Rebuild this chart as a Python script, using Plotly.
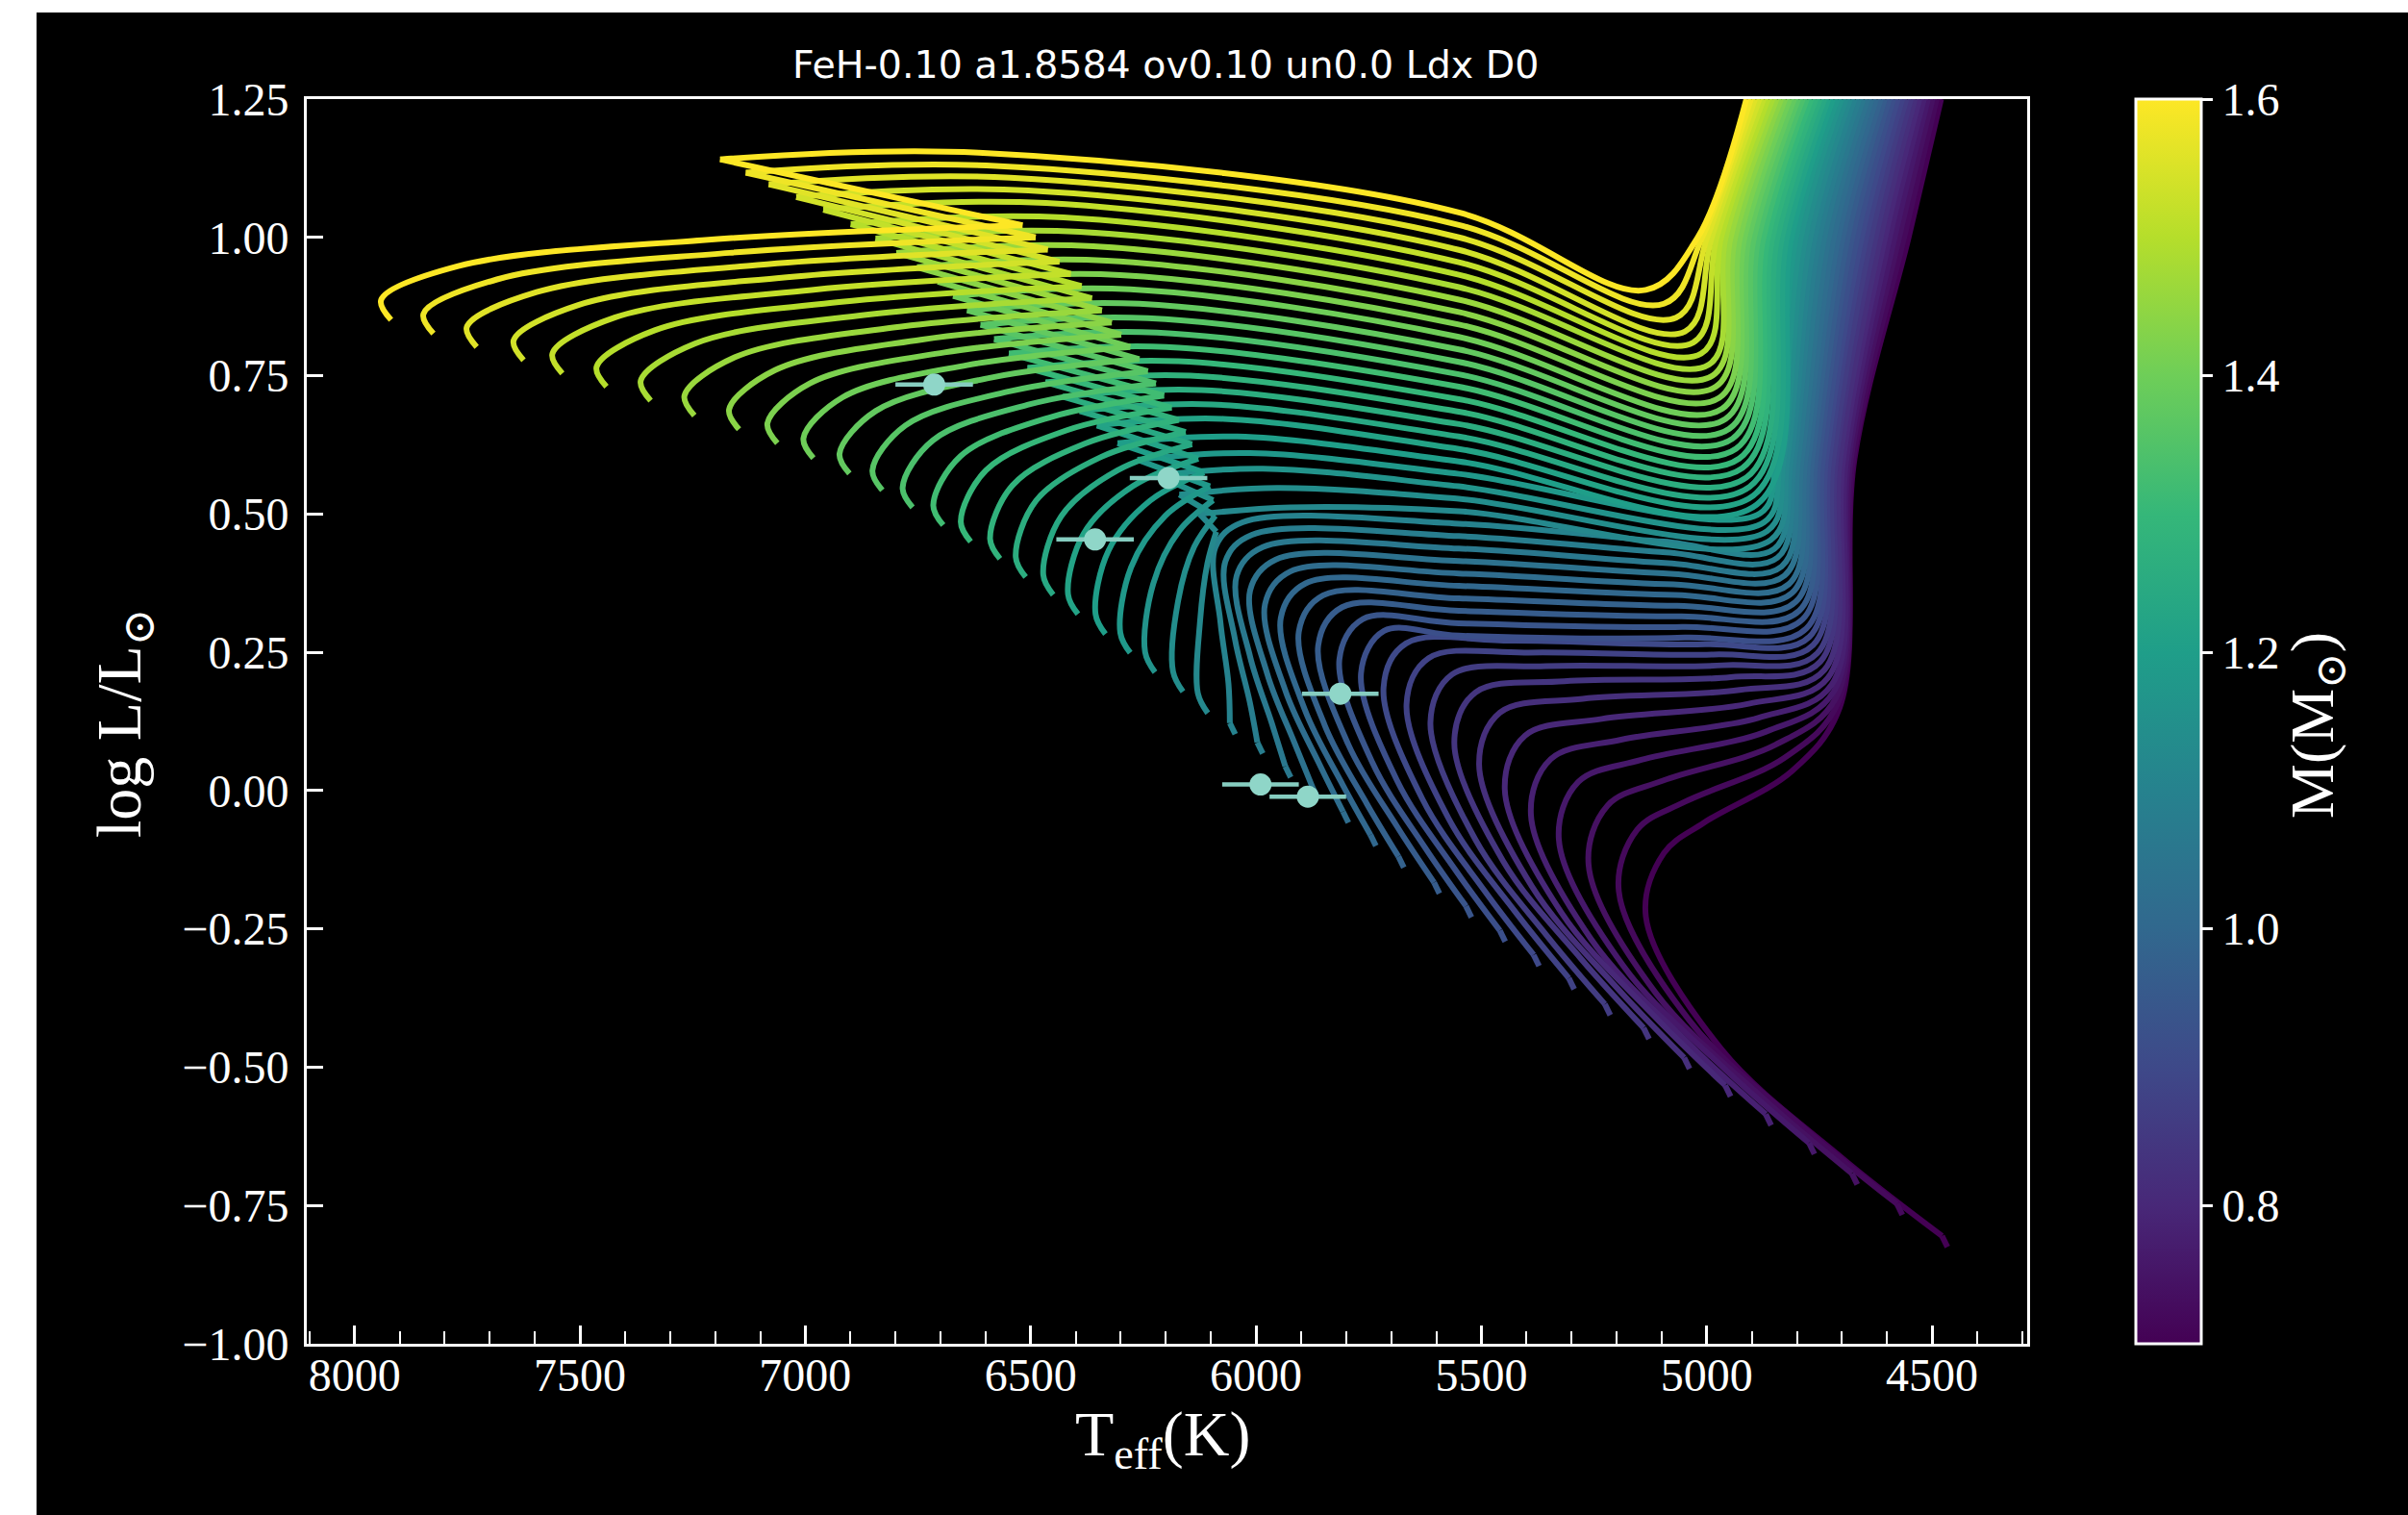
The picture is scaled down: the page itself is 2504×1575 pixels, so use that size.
import plotly.graph_objects as go
from plotly.colors import sample_colorscale

# Track grid: stellar masses in solar units, most massive first
masses = [1.60, 1.58, 1.56, 1.54, 1.52, 1.50, 1.48, 1.46, 1.44, 1.42,
          1.40, 1.38, 1.36, 1.34, 1.32, 1.30, 1.28, 1.26, 1.24, 1.22,
          1.20, 1.18, 1.16, 1.14, 1.12, 1.10, 1.08, 1.06, 1.04, 1.02,
          1.00, 0.98, 0.96, 0.94, 0.92, 0.90, 0.88, 0.86, 0.84, 0.82,
          0.80, 0.78, 0.76, 0.74, 0.72, 0.70]

# first model of each track
start_teff = [7919, 7825, 7729, 7625, 7539, 7441, 7343, 7246, 7147, 7062, 6982, 6902, 6829, 6762, 6694, 6633,
              6568, 6511, 6450, 6395, 6334, 6279, 6224, 6162, 6107, 6046, 5985, 5923, 5862, 5795, 5734, 5672,
              5593, 5522, 5447, 5372, 5294, 5214, 5128, 5038, 4947, 4857, 4761, 4666, 4566, 4466]
start_logl = [0.851, 0.826, 0.802, 0.778, 0.754, 0.730, 0.705, 0.678, 0.653, 0.628, 0.601, 0.573, 0.543, 0.512,
              0.480, 0.450, 0.419, 0.386, 0.354, 0.319, 0.283, 0.249, 0.214, 0.179, 0.140, 0.102, 0.067, 0.024,
              -0.015, -0.058, -0.100, -0.139, -0.186, -0.229, -0.273, -0.317, -0.359, -0.406, -0.449, -0.503,
              -0.553, -0.605, -0.657, -0.712, -0.767, -0.825]

# zero-age main sequence (top of the starting hook)
zams_teff = [7941, 7847, 7751, 7647, 7561, 7463, 7365, 7268, 7169, 7084, 7004, 6924, 6851, 6784, 6716, 6655,
             6590, 6533, 6472, 6417, 6356, 6301, 6246, 6184, 6129, 6058, 5997, 5935, 5874, 5807, 5746, 5684,
             5605, 5534, 5459, 5384, 5306, 5226, 5140, 5050, 4959, 4869, 4773, 4678, 4578, 4478]
zams_logl = [0.887, 0.862, 0.838, 0.814, 0.790, 0.766, 0.741, 0.714, 0.689, 0.664, 0.637, 0.609, 0.579, 0.548,
             0.516, 0.486, 0.455, 0.422, 0.390, 0.355, 0.319, 0.285, 0.250, 0.215, 0.176, 0.122, 0.087, 0.044,
             0.005, -0.038, -0.080, -0.119, -0.166, -0.209, -0.253, -0.297, -0.339, -0.386, -0.429, -0.483,
             -0.533, -0.585, -0.637, -0.692, -0.747, -0.805]

# two points along the main sequence
ms1_teff = [7770, 7684, 7596, 7502, 7423, 7334, 7245, 7157, 7067, 6990, 6917, 6844, 6778, 6717, 6655, 6599,
            6540, 6488, 6432, 6382, 6327, 6277, 6228, 6173, 6124, 6061, 6014, 5965, 5915, 5860, 5808, 5754,
            5687, 5625, 5559, 5493, 5424, 5354, 5279, 5201, 5122, 5044, 4959, 4875, 4786, 4700]
ms1_logl = [0.948, 0.924, 0.901, 0.878, 0.855, 0.832, 0.808, 0.783, 0.760, 0.736, 0.711, 0.686, 0.660, 0.633,
            0.605, 0.579, 0.552, 0.524, 0.496, 0.465, 0.434, 0.404, 0.374, 0.342, 0.307, 0.193, 0.161, 0.122,
            0.087, 0.049, 0.011, -0.024, -0.065, -0.103, -0.142, -0.181, -0.220, -0.263, -0.304, -0.355,
            -0.403, -0.454, -0.504, -0.556, -0.609, -0.664]
ms2_teff = [7229, 7168, 7106, 7041, 6986, 6925, 6865, 6805, 6744, 6691, 6641, 6591, 6545, 6503, 6460, 6421,
            6380, 6344, 6307, 6272, 6235, 6201, 6170, 6137, 6108, 6079, 6047, 6013, 5975, 5934, 5892, 5847,
            5795, 5742, 5687, 5631, 5573, 5513, 5452, 5388, 5323, 5257, 5186, 5113, 5038, 4968]
ms2_logl = [0.995, 0.972, 0.950, 0.928, 0.905, 0.883, 0.860, 0.837, 0.815, 0.792, 0.769, 0.746, 0.722, 0.698,
            0.674, 0.651, 0.627, 0.603, 0.579, 0.551, 0.524, 0.497, 0.470, 0.441, 0.410, 0.305, 0.275, 0.242,
            0.211, 0.179, 0.147, 0.117, 0.083, 0.051, 0.018, -0.015, -0.050, -0.089, -0.127, -0.173, -0.220,
            -0.268, -0.316, -0.366, -0.416, -0.467]

# end of the main sequence: coolest point before the hook (massive tracks) or hottest point (low masses)
turn_teff = [6518, 6489, 6462, 6436, 6411, 6387, 6364, 6342, 6320, 6299, 6279, 6259, 6240, 6222, 6204, 6187,
             6171, 6156, 6142, 6128, 6115, 6102, 6095, 6090, 6088, 6090, 6068, 6043, 6013, 5980, 5945, 5905,
             5862, 5815, 5767, 5717, 5666, 5613, 5560, 5505, 5448, 5390, 5328, 5262, 5195, 5135]
turn_logl = [1.022, 1.000, 0.978, 0.956, 0.934, 0.912, 0.890, 0.868, 0.846, 0.824, 0.802, 0.780, 0.758, 0.736,
             0.714, 0.692, 0.670, 0.648, 0.626, 0.600, 0.575, 0.550, 0.525, 0.497, 0.468, 0.440, 0.414, 0.388,
             0.362, 0.337, 0.312, 0.287, 0.262, 0.237, 0.212, 0.186, 0.156, 0.123, 0.087, 0.047, 0.002,
             -0.044, -0.089, -0.135, -0.182, -0.228]

# tip of the contraction hook (massive tracks) / top of the turn-off arc (low masses)
hook_teff = [7189, 7132, 7081, 7020, 6960, 6899, 6844, 6798, 6752, 6706, 6672, 6641, 6611, 6581, 6548, 6507,
             6467, 6429, 6391, 6353, 6307, 6263, 6220, 6170, 6125, 6030, 6009, 5985, 5956, 5924, 5890, 5851,
             5809, 5763, 5716, 5667, 5617, 5565, 5513, 5459, 5403, 5346, 5285, 5220, 5154, 5095]
hook_logl = [1.141, 1.117, 1.096, 1.073, 1.050, 1.024, 0.998, 0.972, 0.946, 0.920, 0.894, 0.868, 0.842, 0.816,
             0.790, 0.764, 0.738, 0.712, 0.686, 0.660, 0.628, 0.598, 0.570, 0.535, 0.500, 0.485, 0.4625, 0.440,
             0.4175, 0.396, 0.3745, 0.353, 0.3315, 0.310, 0.2885, 0.266, 0.2395, 0.210, 0.1775, 0.141, 0.0995,
             0.057, 0.0155, -0.027, -0.0705, -0.113]

# subgiant branch
sga_teff = [6615, 6578, 6545, 6505, 6466, 6427, 6391, 6361, 6331, 6301, 6279, 6259, 6240, 6220, 6199, 6172,
            6146, 6121, 6097, 6072, 6042, 6013, 5985, 5953, 5924, 5550, 5550, 5550, 5550, 5550, 5550, 5550,
            5550, 5550, 5550, 5433, 5395, 5356, 5316, 5275, 5233, 5190, 5145, 5097, 5049, 5006]
sga_logl = [1.153, 1.129, 1.108, 1.085, 1.062, 1.036, 1.010, 0.984, 0.958, 0.932, 0.906, 0.880, 0.854, 0.828,
            0.802, 0.776, 0.750, 0.724, 0.698, 0.672, 0.640, 0.610, 0.582, 0.547, 0.512, 0.4825, 0.460, 0.4375,
            0.415, 0.3925, 0.370, 0.3475, 0.325, 0.3025, 0.280, 0.271, 0.2495, 0.225, 0.1975, 0.166, 0.1295,
            0.092, 0.0555, 0.018, -0.0205, -0.058]
sgb_teff = [5550, 5550, 5550, 5550, 5550, 5550, 5550, 5550, 5550, 5550, 5550, 5550, 5550, 5550, 5550, 5550,
            5550, 5550, 5550, 5550, 5550, 5550, 5550, 5550, 5550, 5095, 5090, 5085, 5080, 5074, 5070, 5065,
            5059, 5055, 5049, 5003, 4985, 4965, 4947, 4927, 4907, 4886, 4867, 4847, 4828, 4810]
sgb_logl = [1.045, 1.0225, 1.000, 0.9775, 0.955, 0.9325, 0.910, 0.8875, 0.865, 0.8425, 0.820, 0.7975, 0.775,
            0.7525, 0.730, 0.7075, 0.685, 0.6625, 0.640, 0.6175, 0.595, 0.5725, 0.550, 0.5275, 0.505, 0.450,
            0.4305, 0.411, 0.392, 0.3728, 0.3535, 0.334, 0.315, 0.296, 0.2765, 0.2645, 0.246, 0.2265, 0.205,
            0.182, 0.157, 0.1315, 0.107, 0.083, 0.059, 0.036]

# base of the red giant branch
base_teff = [5135, 5095, 5068, 5048, 5030, 5012, 4995, 4987, 4980, 4972, 4966, 4958, 4950, 4943, 4935, 4928,
             4921, 4912, 4905, 4897, 4889, 4882, 4873, 4866, 4858, 4850, 4843, 4834, 4827, 4818, 4811, 4803,
             4795, 4788, 4779, 4772, 4764, 4755, 4748, 4739, 4731, 4723, 4718, 4713, 4709, 4705]
base_logl = [0.905, 0.880, 0.855, 0.830, 0.810, 0.790, 0.770, 0.750, 0.730, 0.710, 0.690, 0.672, 0.654, 0.636,
             0.618, 0.600, 0.583, 0.566, 0.549, 0.533, 0.517, 0.501, 0.485, 0.469, 0.453, 0.437, 0.421, 0.405,
             0.389, 0.373, 0.357, 0.341, 0.325, 0.309, 0.293, 0.278, 0.263, 0.248, 0.233, 0.218, 0.204, 0.191,
             0.179, 0.168, 0.158, 0.150]

# red giant branch temperatures at fixed luminosity levels
rgb_levels = [0.60, 1.00, 1.25]
rgb060_teff = [None, None, None, None, None, None, None, None, None, None, None, None, None, None, None, None,
               None, None, None, None, None, 4846, 4837, 4829, 4821, 4813, 4806, 4797, 4789, 4781, 4774, 4766,
               4758, 4751, 4742, 4735, 4728, 4719, 4713, 4704, 4697, 4690, 4685, 4680, 4675, 4672]
rgb100_teff = [5020, 5010, 4999, 4989, 4978, 4968, 4958, 4947, 4937, 4926, 4916, 4906, 4895, 4885, 4874, 4864,
               4854, 4843, 4833, 4822, 4812, 4802, 4791, 4781, 4770, 4760, 4750, 4739, 4729, 4718, 4708, 4698,
               4687, 4677, 4666, 4656, 4646, 4635, 4625, 4614, 4604, 4594, 4583, 4573, 4562, 4552]
rgb125_teff = [4912, 4902, 4893, 4883, 4874, 4864, 4854, 4845, 4835, 4826, 4816, 4806, 4797, 4787, 4778, 4768,
               4758, 4749, 4739, 4730, 4720, 4710, 4701, 4691, 4682, 4672, 4662, 4653, 4643, 4634, 4624, 4614,
               4605, 4595, 4586, 4576, 4566, 4557, 4547, 4538, 4528, 4518, 4509, 4499, 4490, 4480]

# observed stars
obs_teff = [6714, 6194, 6357, 5813, 5990, 5885]
obs_logl = [0.734, 0.565, 0.454, 0.175, 0.011, -0.011]
obs_teff_err = [86, 86, 86, 85, 85, 85]

M_MIN, M_MAX = 0.70, 1.60
HOOK_MASS = 1.11  # tracks above this mass show a main-sequence hook

title_text = "FeH-0.10 a1.8584 ov0.10 un0.0 Ldx D0"
x_ticks = [4500, 5000, 5500, 6000, 6500, 7000, 7500, 8000]
cbar_ticks = [0.8, 1.0, 1.2, 1.4, 1.6]

SERIF = "Liberation Serif, DejaVu Serif, serif"

# plot-area placement in pixels
W, H = 2504, 1575
L_PX, R_PX, T_PX, B_PX = 319, 2108, 103, 1397
PW, PH = R_PX - L_PX, B_PX - T_PX


def px_x(px):
    return (px - L_PX) / PW


def px_y(py):
    return (B_PX - py) / PH


def mass_color(m):
    return sample_colorscale("Viridis", [(m - M_MIN) / (M_MAX - M_MIN)])[0]


fig = go.Figure()


def add_line(xs, ys, color, shape):
    fig.add_trace(go.Scatter(
        x=xs, y=ys, mode="lines",
        line=dict(color=color, width=6, shape=shape, smoothing=1.0),
        hoverinfo="skip", showlegend=False,
    ))


# lightest tracks first so the massive ones sit on top
for k in sorted(range(len(masses)), key=lambda j: masses[j]):
    col = mass_color(masses[k])
    giant_t = [sga_teff[k], sgb_teff[k], base_teff[k]]
    giant_l = [sga_logl[k], sgb_logl[k], base_logl[k]]
    for lev, tv in zip(rgb_levels, [rgb060_teff[k], rgb100_teff[k], rgb125_teff[k]]):
        if tv is not None:
            giant_t.append(tv)
            giant_l.append(lev)

    if masses[k] > HOOK_MASS:
        add_line([start_teff[k], zams_teff[k], ms1_teff[k], ms2_teff[k], turn_teff[k]],
                 [start_logl[k], zams_logl[k], ms1_logl[k], ms2_logl[k], turn_logl[k]], col, "spline")
        add_line([turn_teff[k], hook_teff[k]], [turn_logl[k], hook_logl[k]], col, "linear")
        add_line([hook_teff[k]] + giant_t, [hook_logl[k]] + giant_l, col, "spline")
    else:
        add_line([start_teff[k], zams_teff[k]], [start_logl[k], zams_logl[k]], col, "linear")
        add_line([zams_teff[k], ms1_teff[k], ms2_teff[k], turn_teff[k], hook_teff[k]] + giant_t,
                 [zams_logl[k], ms1_logl[k], ms2_logl[k], turn_logl[k], hook_logl[k]] + giant_l,
                 col, "spline")

# observed stars with temperature error bars
fig.add_trace(go.Scatter(
    x=obs_teff, y=obs_logl, mode="markers",
    marker=dict(size=23, color="#8fd6c8", line=dict(width=0)),
    error_x=dict(type="data", array=obs_teff_err, color="#86cdc0", thickness=4.5, width=0),
    hoverinfo="skip", showlegend=False,
))

# invisible carrier for the mass colour bar
fig.add_trace(go.Scatter(
    x=[9000], y=[5], mode="markers",
    marker=dict(size=1, color=[M_MIN], cmin=M_MIN, cmax=M_MAX, colorscale="Viridis", showscale=True,
                colorbar=dict(
                    x=px_x(2221), xanchor="left", y=0.5, yanchor="middle",
                    len=1.0, lenmode="fraction", thickness=68, thicknessmode="pixels",
                    xpad=0, ypad=0, outlinecolor="white", outlinewidth=3,
                    tickvals=cbar_ticks, ticktext=[f"{v:.1f}" for v in cbar_ticks],
                    ticks="outside", ticklen=11, tickwidth=2.5, tickcolor="white",
                    tickfont=dict(family=SERIF, size=48, color="white"),
                )),
    hoverinfo="skip", showlegend=False,
))

axis_common = dict(
    showgrid=False, zeroline=False, showline=True, linecolor="white", linewidth=3, mirror=True,
    ticks="inside", tickcolor="white", tickwidth=2.5,
    tickfont=dict(family=SERIF, size=48, color="white"),
)

fig.update_xaxes(
    range=[8106, 4289], tickvals=x_ticks, ticktext=[str(v) for v in x_ticks], ticklen=19,
    ticklabelstandoff=-12,
    minor=dict(ticks="inside", ticklen=13, tickwidth=2, tickcolor="white", dtick=100, tick0=0, showgrid=False),
    **axis_common,
)
fig.update_yaxes(
    range=[-1.0, 1.25], tickmode="linear", tick0=0, dtick=0.25, tickformat=".2f", ticklen=17,
    ticklabelstandoff=6,
    **axis_common,
)

annotations = [
    dict(text=title_text, x=px_x(1212), y=px_y(67), xref="paper", yref="paper", showarrow=False,
         xanchor="center", yanchor="middle", font=dict(family="DejaVu Sans", size=39.5, color="white")),
    dict(text="T<sub>eff</sub>(K)", x=px_x(1209), y=px_y(1495), xref="paper", yref="paper", showarrow=False,
         xanchor="center", yanchor="middle", font=dict(family=SERIF, size=66, color="white")),
    dict(text="log L/L<sub>⊙</sub>", x=px_x(128), y=px_y(752), xref="paper", yref="paper", showarrow=False,
         textangle=-90, xanchor="center", yanchor="middle", font=dict(family=SERIF, size=66, color="white")),
    dict(text="M(M<sub>⊙</sub>)", x=px_x(2409), y=px_y(754), xref="paper", yref="paper", showarrow=False,
         textangle=-90, xanchor="center", yanchor="middle", font=dict(family=SERIF, size=64, color="white")),
]

fig.update_layout(
    width=W, height=H,
    margin=dict(l=L_PX, r=W - R_PX, t=T_PX, b=H - B_PX, autoexpand=False),
    paper_bgcolor="white", plot_bgcolor="black",
    shapes=[dict(type="rect", xref="paper", yref="paper", x0=px_x(38), x1=1.25, y0=-0.2, y1=px_y(13),
                 fillcolor="black", line=dict(width=0), layer="below")],
    annotations=annotations,
    hovermode=False,
)

fig.write_html("out.html")
